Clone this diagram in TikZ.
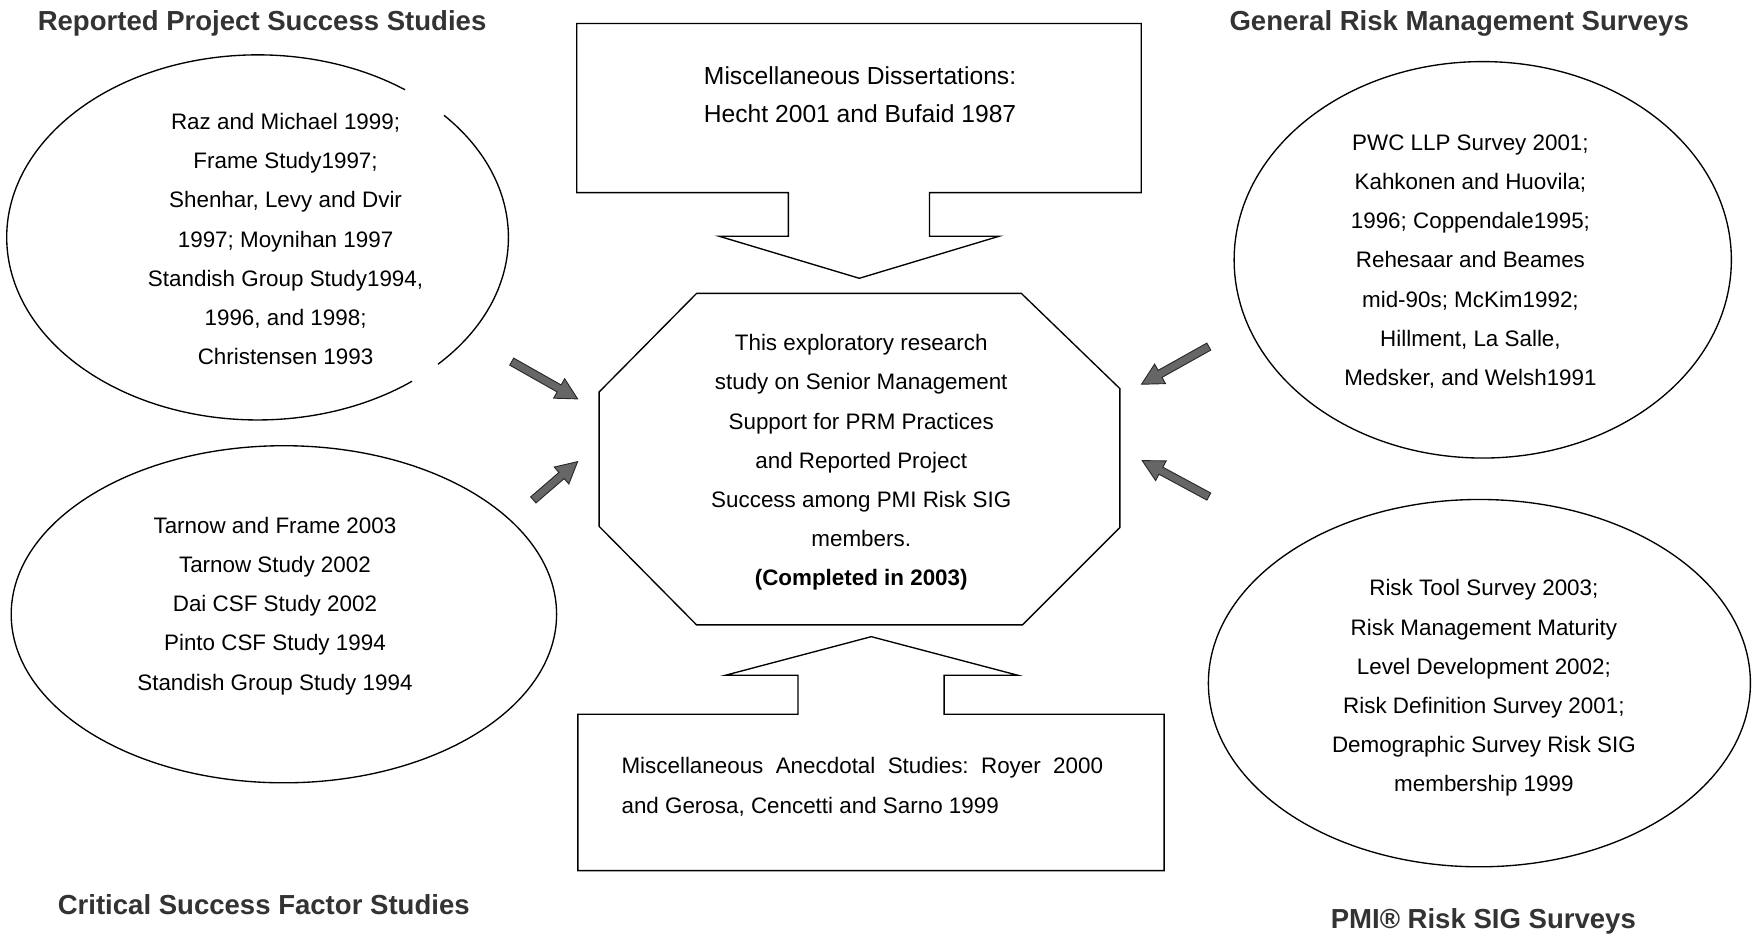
\documentclass[tikz,border=0pt]{standalone}
\usepackage{fontspec}
\setmainfont{Liberation Sans}
\usetikzlibrary{shapes.geometric,calc}

% block arrow from tail coordinate #1 to head coordinate #2
\newcommand\fatarrow[2]{%
  \draw[fatarrowstyle]
    ($(#1)!3.6pt!90:(#2)$) --
    ($(#2)!19pt!(#1)!3.6pt!-90:(#1)$) --
    ($(#2)!19pt!(#1)!10pt!-90:(#1)$) --
    (#2) --
    ($(#2)!19pt!(#1)!10pt!90:(#1)$) --
    ($(#2)!19pt!(#1)!3.6pt!90:(#1)$) --
    ($(#1)!3.6pt!-90:(#2)$) -- cycle;}

\begin{document}
\frenchspacing
\begin{tikzpicture}[x=1pt,y=1pt,
  outline/.style={draw=black, line width=1.2pt, line join=miter},
  oval/.style={ellipse, outline, inner sep=0pt},
  body/.style={font=\fontsize{20}{35}\selectfont, align=center, inner sep=0pt},
  heading/.style={font=\fontsize{24.6}{30}\selectfont\bfseries, text=black!80, inner sep=0pt},
  fatarrowstyle/.style={fill=black!60, draw=black!85, line width=0.8pt, line join=miter},
]
\useasboundingbox (0,0) rectangle (1568,-842);

% ---- headings ----
\node[heading] (tRPS) at (234,-21) {Reported Project Success Studies};
\node[heading] (tGRM) at (1303,-21) {General Risk Management Surveys};
\node[heading] (tCSF) at (235.5,-808) {Critical Success Factor Studies};
\node[heading] (tPMI) at (1324.5,-823) {PMI® Risk SIG Surveys};

% ---- upper left oval (outline broken on the right) ----
\coordinate (ovA) at (230,-212);
\draw[outline] ($(ovA)+(54:224pt and 163pt)$)
  arc[start angle=54, end angle=308, x radius=224pt, y radius=163pt];
\draw[outline] ($(ovA)+(-44:224pt and 163pt)$)
  arc[start angle=-44, end angle=42, x radius=224pt, y radius=163pt];
\node[body] (txtA) at (255,-213.5) {Raz and Michael 1999;\\Frame Study1997;\\Shenhar, Levy and Dvir\\1997; Moynihan 1997\\Standish Group Study1994,\\1996, and 1998;\\Christensen 1993};

% ---- lower left oval ----
\node[oval, minimum width=487pt, minimum height=301pt] (ovB) at (253.5,-548.5) {};
\node[body] (txtB) at (245.5,-541) {Tarnow and Frame 2003\\Tarnow Study 2002\\Dai CSF Study 2002\\Pinto CSF Study 1994\\Standish Group Study 1994};

% ---- upper right oval ----
\node[oval, minimum width=444pt, minimum height=354pt] (ovC) at (1324,-232) {};
\node[body] (txtC) at (1313,-233.5) {PWC LLP Survey 2001;\\Kahkonen and Huovila;\\1996; Coppendale1995;\\Rehesaar and Beames\\mid-90s; McKim1992;\\Hillment, La Salle,\\Medsker, and Welsh1991};

% ---- lower right oval ----
\node[oval, minimum width=484pt, minimum height=328pt] (ovD) at (1321,-610) {};
\node[body] (txtD) at (1325,-614.5) {Risk Tool Survey 2003;\\Risk Management Maturity\\Level Development 2002;\\Risk Definition Survey 2001;\\Demographic Survey Risk SIG\\membership 1999};

% ---- central octagon ----
\draw[outline] (622,-262) -- (912,-262) -- (1000,-347) -- (1000,-471) -- (913,-558)
  -- (622,-558) -- (535,-470) -- (535,-350) -- cycle;
\node[body] (core) at (769,-413) {This exploratory research\\study on Senior Management\\Support for PRM Practices\\and Reported Project\\Success among PMI Risk SIG\\members.\\\textbf{(Completed in 2003)}};

% ---- top callout pointing down ----
\draw[outline] (515,-21) -- (1019,-21) -- (1019,-172) -- (830,-172) -- (830,-211)
  -- (892,-211) -- (767.3,-248.5) -- (642.3,-211) -- (704,-211) -- (704,-172)
  -- (515,-172) -- cycle;
\node[font=\fontsize{22}{34}\selectfont, align=center, inner sep=0pt] (disF) at (768,-84.5)
  {Miscellaneous Dissertations:\\Hecht 2001 and Bufaid 1987};

% ---- bottom callout pointing up ----
\draw[outline] (516,-777.4) -- (1039.5,-777.4) -- (1039.5,-637.8) -- (843,-637.8)
  -- (843,-603) -- (909,-603) -- (778,-568.5) -- (647.6,-603) -- (712.6,-603)
  -- (712.6,-637.8) -- (516,-637.8) -- cycle;
\node[font=\fontsize{20}{35}\selectfont, text width=430pt, align=justify, inner sep=0pt]
  (anecG) at (770,-702.5)
  {Miscellaneous Anecdotal Studies: Royer 2000\linebreak and Gerosa, Cencetti and Sarno 1999};

% ---- block arrows towards the octagon ----
\coordinate (a1t) at (456.9,-322.9);  \coordinate (a1h) at (515.8,-356.2);
\coordinate (a2t) at (476.2,-446.4);  \coordinate (a2h) at (515.8,-412.2);
\coordinate (a3t) at (1079.4,-309.5); \coordinate (a3h) at (1019.3,-343.1);
\coordinate (a4t) at (1079.4,-443.4); \coordinate (a4h) at (1019.9,-411.3);
\fatarrow{a1t}{a1h}
\fatarrow{a2t}{a2h}
\fatarrow{a3t}{a3h}
\fatarrow{a4t}{a4h}
\end{tikzpicture}
\end{document}
